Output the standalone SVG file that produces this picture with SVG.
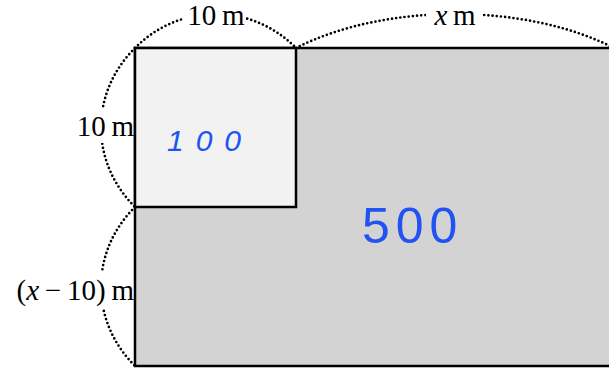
<svg xmlns="http://www.w3.org/2000/svg" width="609" height="370" viewBox="0 0 609 370">
<style>
.dim{fill:none;stroke:#000;stroke-width:2.7;stroke-linecap:round;stroke-dasharray:0 4.2}
.box{stroke:#000;stroke-width:2.5}
.lbl{font-family:"Liberation Serif","Times New Roman",serif;font-size:29px;fill:#000}
.hand{font-family:"Liberation Sans",Arial,sans-serif;fill:#2152f2}
</style>
<defs>
<clipPath id="gaps">
<path clip-rule="evenodd" d="M-10,-10 H630 V380 H-10 Z M183,0 H245 V32 H183 Z M426,0 H482 V30 H426 Z M70,108 H134 V143 H70 Z M8,272 H134 V309 H8 Z"/>
</clipPath>
</defs>
<rect width="609" height="370" fill="#fff"/>
<g id="big-rect"><rect class="box" x="135" y="48" width="490" height="318" fill="#d3d3d3"/></g>
<g id="small-square"><rect class="box" x="135" y="48" width="161" height="159" fill="#f2f2f2"/></g>
<g id="connectors" clip-path="url(#gaps)">
<path class="dim" d="M135,48 C180,2.7 251,2.7 296,48"/>
<path class="dim" d="M296,48 C385,2.7 525,2.7 614,48"/>
<path class="dim" d="M135,48 C89.7,93 89.7,162 135,207"/>
<path class="dim" d="M135,207 C89.7,252 89.7,321 135,366"/>
</g>
<g id="label-top-10m"><text class="lbl" x="216" y="25" text-anchor="middle">10&#8201;m</text></g>
<g id="label-xm"><text class="lbl" x="455" y="25" text-anchor="middle"><tspan font-style="italic">x</tspan>&#8201;m</text></g>
<g id="label-left-10m"><text class="lbl" x="134" y="136" text-anchor="end">10&#8201;m</text></g>
<g id="label-left-x10m"><text class="lbl" x="134" y="300" text-anchor="end">(<tspan font-style="italic">x</tspan>&#8201;−&#8201;10)&#8201;m</text></g>
<g id="area-100"><text class="hand" x="167" y="151" font-size="30" letter-spacing="12" font-style="italic">100</text></g>
<g id="area-500"><text class="hand" x="362" y="243" font-size="50" letter-spacing="6">500</text></g>
</svg>
